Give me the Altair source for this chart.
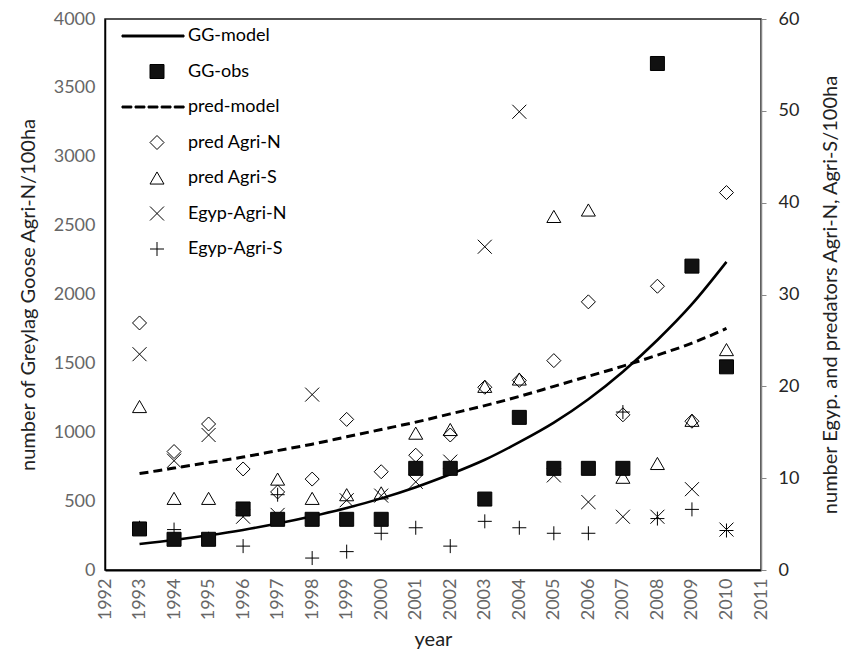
import altair as alt
import pandas as pd

years = list(range(1993, 2011))

gg_model = [189, 218, 252, 291, 337, 390, 450, 520, 601, 695, 800, 928, 1070, 1240, 1440, 1670, 1930, 2237]
gg_obs = [298, 223, 223, 443, 368, 368, 368, 368, 738, 738, 515, 1108, 738, 738, 738, 3677, 2206, 1475]
pred_model = [10.5, 11.1, 11.7, 12.3, 13.0, 13.7, 14.5, 15.3, 16.1, 17.0, 17.9, 18.9, 20.0, 21.1, 22.2, 23.4, 24.7, 26.3]
pred_agri_n = [26.9, 12.9, 15.9, 11.0, 8.5, 9.9, 16.4, 10.7, 12.5, 14.7, 19.9, 20.65, 22.8, 29.2, 16.9, 30.9, 16.2, 41.1]
pred_agri_s = [17.8, 7.8, 7.8, 6.6, 9.9, 7.8, 8.2, 8.4, 14.9, 15.3, 20.0, 20.8, 38.5, 39.2, 10.1, 11.6, 16.3, 24.0]
egyp_agri_n = [23.5, 11.9, 14.7, 5.8, 6.0, 19.1, 7.6, 8.1, 9.6, 11.8, 35.2, 49.9, 10.3, 7.4, 5.8, 5.8, 8.8, 4.4]
egyp_agri_s = [4.6, 4.4, 3.4, 2.6, 8.2, 1.3, 2.0, 4.0, 4.6, 2.6, 5.3, 4.6, 4.0, 4.0, 17.2, 5.6, 6.6, 4.3]

series_names = ["GG-model", "GG-obs", "pred-model", "pred Agri-N", "pred Agri-S", "Egyp-Agri-N", "Egyp-Agri-S"]

x_ticks = list(range(1992, 2012))
left_ticks = list(range(0, 4001, 500))
right_ticks = list(range(0, 61, 10))

left_title = "number of Greylag Goose Agri-N/100ha"
right_title = "number Egyp. and  predators Agri-N,  Agri-S/100ha"
x_title = "year"

# legend / marker shapes
LINE = "M-5,-0.14H3.86V0.14H-5Z"
dash_segs = [(-5.0, -3.6), (-3.13, -1.73), (-1.27, 0.13), (0.6, 2.0), (2.47, 3.87)]
DASH = "".join(f"M{a},-0.14H{b}V0.14H{a}Z" for a, b in dash_segs)
XS = "M-1,-1L1,1M-1,1L1,-1"
PLUS = "M-1,0H1M0,-1V1"
shape_range = [LINE, "square", DASH, "diamond", "triangle-up", XS, PLUS]
fill_range = ["black", "#111111", "black", "transparent", "transparent", "transparent", "transparent"]
stroke_range = ["black"] * 7

FONT = "Lato"

df_gg_model = pd.DataFrame({"year": years, "value": gg_model, "series": "GG-model"})
df_pred_model = pd.DataFrame({"year": years, "value": pred_model, "series": "pred-model"})
df_gg_obs = pd.DataFrame({"year": years, "value": gg_obs, "series": "GG-obs"})
df_right = pd.concat([
    pd.DataFrame({"year": years, "value": pred_agri_n, "series": "pred Agri-N"}),
    pd.DataFrame({"year": years, "value": pred_agri_s, "series": "pred Agri-S"}),
    pd.DataFrame({"year": years, "value": egyp_agri_n, "series": "Egyp-Agri-N"}),
    pd.DataFrame({"year": years, "value": egyp_agri_s, "series": "Egyp-Agri-S"}),
], ignore_index=True)

x_enc = alt.X("year:Q",
              scale=alt.Scale(domain=[1992, 2011], nice=False, zero=False),
              axis=alt.Axis(values=x_ticks, format="d", labelAngle=270, ticks=False,
                            domainColor="black", domainWidth=2, labelColor="#666666",
                            labelPadding=8, title=x_title, titlePadding=10, titleColor="#222222"))

left_scale = alt.Scale(domain=[0, 4000], nice=False)
right_scale = alt.Scale(domain=[0, 60], nice=False)

y_left_axis = alt.Axis(values=left_ticks, format="d", ticks=False, domainColor="black", domainWidth=1.5,
                       labelColor="#666666", labelPadding=10, title=left_title,
                       titlePadding=15, titleColor="#222222")
y_right_axis = alt.Axis(orient="right", values=right_ticks, format="d", ticks=True, tickColor="#888888",
                        tickSize=5, domainColor="#888888", domainWidth=1.5,
                        labelColor="#262626", labelPadding=12, title=right_title,
                        titleAngle=270, titlePadding=42, titleColor="#222222")

legend = alt.Legend(title=None, orient="none", legendX=43, legendY=8, symbolSize=196,
                    symbolStrokeColor="black", symbolStrokeWidth=1, labelFont=FONT,
                    labelFontSize=18, labelColor="black", rowPadding=17.5, labelOffset=22,
                    padding=0)

shape_enc = alt.Shape("series:N", scale=alt.Scale(domain=series_names, range=shape_range), legend=legend)
fill_enc = alt.Fill("series:N", scale=alt.Scale(domain=series_names, range=fill_range), legend=legend)
stroke_enc = alt.Stroke("series:N", scale=alt.Scale(domain=series_names, range=stroke_range), legend=legend)

gg_line = alt.Chart(df_gg_model).mark_line(color="black", strokeWidth=2.6, interpolate="monotone").encode(
    x=x_enc, y=alt.Y("value:Q", scale=left_scale, axis=y_left_axis))

gg_pts = alt.Chart(df_gg_obs).mark_point(size=196, opacity=1, strokeWidth=1).encode(
    x=x_enc, y=alt.Y("value:Q", scale=left_scale, axis=None),
    shape=shape_enc, fill=fill_enc, stroke=stroke_enc)

pred_line = alt.Chart(df_pred_model).mark_line(color="black", strokeWidth=3, strokeDash=[9, 5],
                                               interpolate="monotone").encode(
    x=x_enc, y=alt.Y("value:Q", scale=right_scale, axis=y_right_axis))

right_pts = alt.Chart(df_right).mark_point(size=196, opacity=1, strokeWidth=1).encode(
    x=x_enc, y=alt.Y("value:Q", scale=right_scale, axis=None),
    shape=shape_enc, fill=fill_enc, stroke=stroke_enc)

chart = alt.layer(gg_line, pred_line, right_pts, gg_pts).resolve_scale(y="independent").properties(
    width=656, height=551,
    autosize=alt.AutoSizeParams(type="none"),
    padding={"left": 97, "top": 11, "right": 80, "bottom": 85},
).configure_view(stroke="#1a1a1a", strokeWidth=1.5).configure_axis(
    labelFont=FONT, titleFont=FONT, labelFontSize=18, titleFontSize=20,
    titleFontWeight="normal", grid=False
).configure_legend(labelFont=FONT)

chart.save("out.html", embed_options={"renderer": "svg", "actions": False})
